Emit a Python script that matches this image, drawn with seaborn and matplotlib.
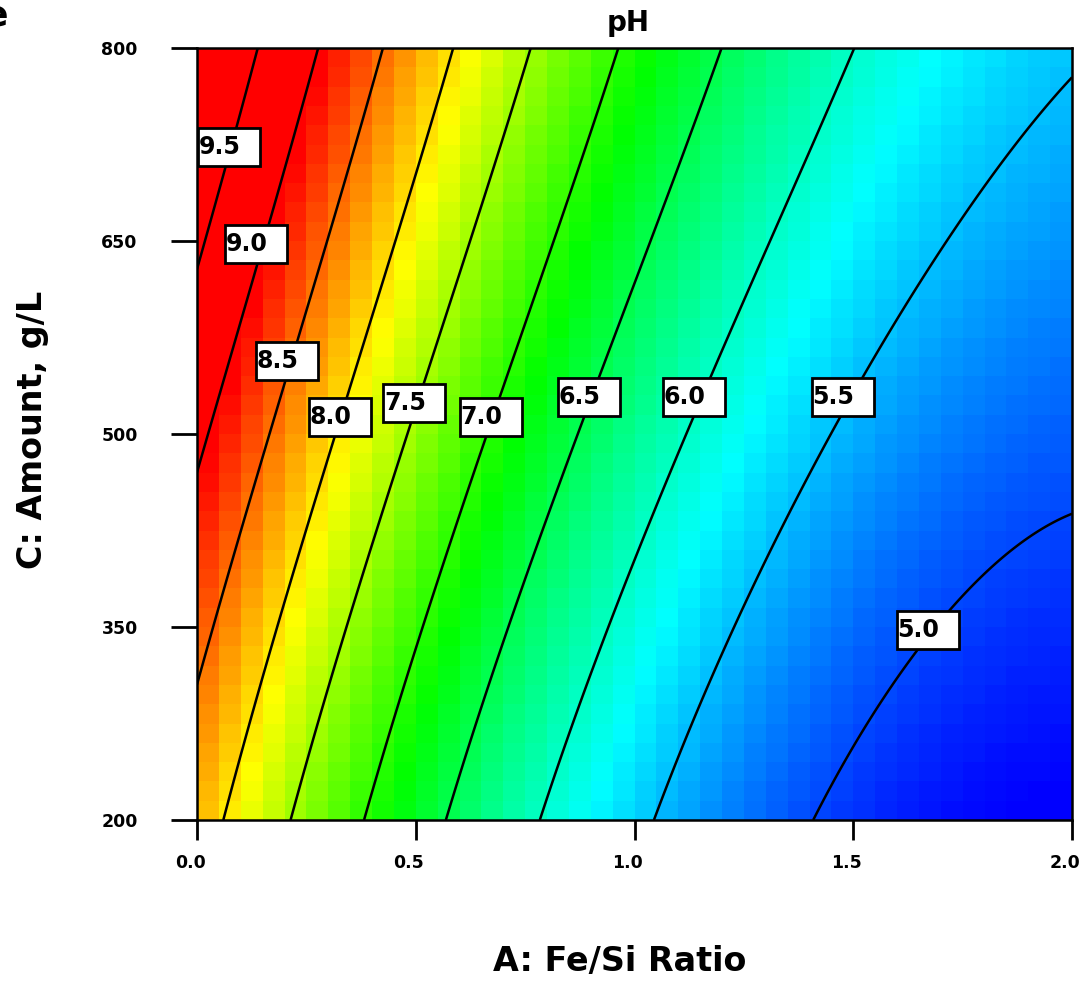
import numpy as np
import pandas as pd
import matplotlib
matplotlib.use("Agg")
import matplotlib.pyplot as plt
from matplotlib.colors import LinearSegmentedColormap
from matplotlib.patches import Rectangle
from matplotlib.transforms import Bbox, ScaledTranslation
import seaborn as sns

# Points along the pH contours: level, Fe/Si ratio (A), amount in g/L (C)
trace_level = [9.5, 9.5, 9.5, 9.5,
               9.0, 9.0, 9.0, 9.0, 9.0,
               8.5, 8.5, 8.5, 8.5, 8.5, 8.5,
               8.0, 8.0, 8.0, 8.0, 8.0, 8.0,
               7.5, 7.5, 7.5, 7.5, 7.5, 7.5,
               7.0, 7.0, 7.0, 7.0, 7.0, 7.0, 7.0,
               6.5, 6.5, 6.5, 6.5, 6.5, 6.5,
               6.0, 6.0, 6.0, 6.0, 6.0, 6.0, 6.0,
               5.5, 5.5, 5.5, 5.5, 5.5, 5.5, 5.5, 5.5,
               5.0, 5.0, 5.0, 5.0, 5.0]
trace_ratio = [0.139, 0.110, 0.074, 0.000,
               0.270, 0.219, 0.135, 0.018, 0.000,
               0.418, 0.350, 0.206, 0.162, 0.037, 0.000,
               0.590, 0.418, 0.327, 0.320, 0.149, 0.059,
               0.761, 0.608, 0.497, 0.487, 0.343, 0.217,
               0.962, 0.921, 0.807, 0.671, 0.665, 0.494, 0.379,
               1.200, 1.111, 0.896, 0.869, 0.686, 0.565,
               1.504, 1.401, 1.264, 1.100, 0.990, 0.875, 0.782,
               2.000, 1.813, 1.698, 1.623, 1.460, 1.321, 1.150, 1.040,
               2.000, 1.877, 1.671, 1.486, 1.413]
trace_amount = [800, 752, 723, 614,
                800, 713, 648, 500, 472,
                800, 713, 557, 500, 350, 306,
                800, 591, 513, 500, 301, 200,
                800, 630, 524, 500, 350, 200,
                800, 752, 641, 513, 500, 319, 200,
                800, 721, 529, 500, 332, 200,
                800, 721, 604, 500, 387, 291, 200,
                769, 708, 647, 604, 500, 410, 288, 200,
                441, 410, 348, 247, 200]

contour_levels = [5.0, 5.5, 6.0, 6.5, 7.0, 7.5, 8.0, 8.5, 9.0, 9.5]

# Where each contour value is written
label_levels = [9.5, 9.0, 8.5, 8.0, 7.5, 7.0, 6.5, 6.0, 5.5, 5.0]
label_ratio = [0.074, 0.135, 0.206, 0.327, 0.497, 0.671, 0.896, 1.137, 1.477, 1.671]
label_amount = [723, 648, 557, 513, 524, 513, 529, 529, 529, 348]

x_ticks = [0.0, 0.5, 1.0, 1.5, 2.0]
x_ticklabels = ["0.0", "0.5", "1.0", "1.5", "2.0"]
y_ticks = [200, 350, 500, 650, 800]
y_ticklabels = ["200", "350", "500", "650", "800"]

A_MIN, A_MAX = 0.0, 2.0
C_MIN, C_MAX = 200.0, 800.0
NX, NY = 40, 40


def design(A, C):
    """Full cubic terms in coded factors."""
    u = np.asarray(A, dtype=float) - 1.0
    c = (np.asarray(C, dtype=float) - 500.0) / 300.0
    return np.stack([np.ones_like(u), u, c, u * u, u * c, c * c,
                     u ** 3, u * u * c, u * c * c, c ** 3], axis=-1)


coef, *_ = np.linalg.lstsq(design(trace_ratio, trace_amount),
                           np.asarray(trace_level, dtype=float), rcond=None)


def ph(A, C):
    return design(A, C) @ coef


def to_ix(A):
    return (np.asarray(A, dtype=float) - A_MIN) / (A_MAX - A_MIN) * NX


def to_iy(C):
    return (C_MAX - np.asarray(C, dtype=float)) / (C_MAX - C_MIN) * NY


# Cell-centred response grid (top row = highest amount)
A_c = A_MIN + (np.arange(NX) + 0.5) * (A_MAX - A_MIN) / NX
C_c = C_MAX - (np.arange(NY) + 0.5) * (C_MAX - C_MIN) / NY
AA, CC = np.meshgrid(A_c, C_c)
grid = pd.DataFrame(ph(AA, CC), index=np.round(C_c, 1), columns=np.round(A_c, 3))

cmap = LinearSegmentedColormap.from_list(
    "ph_scale", ["#0000ff", "#00ffff", "#00ff00", "#ffff00", "#ff0000"])

plt.rcParams["font.family"] = ["DejaVu Sans"]
W, H = 1086, 981
fig = plt.figure(figsize=(W / 100, H / 100), dpi=100)
ax = fig.add_axes([197 / W, 1 - 820 / H, 875 / W, 772 / H])

sns.heatmap(grid, cmap=cmap, vmin=4.7, vmax=8.95, cbar=False, ax=ax,
            xticklabels=False, yticklabels=False)

# Contour lines on a finer mesh
A_f = np.linspace(A_MIN, A_MAX, 241)
C_f = np.linspace(C_MIN, C_MAX, 241)
AF, CF = np.meshgrid(A_f, C_f)
ax.contour(to_ix(AF), to_iy(CF), ph(AF, CF), levels=contour_levels,
           colors="black", linewidths=1.8)

for s in ax.spines.values():
    s.set_visible(True)
    s.set_linewidth(1.8)
    s.set_color("black")

ax.set_xticks(to_ix(x_ticks))
ax.set_xticklabels(x_ticklabels)
ax.set_yticks(to_iy(y_ticks))
ax.set_yticklabels(y_ticklabels, rotation=0)
ax.tick_params(axis="x", bottom=True, direction="out", length=14.4, width=2,
               pad=10, labelsize=12.5, colors="black")
ax.tick_params(axis="y", left=True, direction="out", length=18.7, width=2,
               pad=24, labelsize=12.5, colors="black")
for lbl in ax.get_xticklabels() + ax.get_yticklabels():
    lbl.set_fontweight("bold")
for lbl in ax.get_xticklabels():
    lbl.set_transform(lbl.get_transform()
                      + ScaledTranslation(-0.07, 0, fig.dpi_scale_trans))

# Boxed contour labels
box_w = 62 / (875 / NX)
box_h = 38 / (772 / NY)
for lev, a, c in zip(label_levels, label_ratio, label_amount):
    cx, cy = float(to_ix(a)), float(to_iy(c))
    x0, y0 = cx - box_w / 2, cy - box_h / 2
    ax.add_patch(Rectangle((x0, y0), box_w, box_h, facecolor="white",
                           edgecolor="none", zorder=5))
    t = ax.text(x0 + 0.02, cy, f"{lev:.1f}", ha="left", va="center",
                fontsize=17, fontweight="bold", color="black", zorder=6)
    p0 = ax.transData.transform((x0, y0))
    p1 = ax.transData.transform((x0 + box_w, y0 + box_h))
    t.set_clip_box(Bbox.from_extents(min(p0[0], p1[0]), min(p0[1], p1[1]),
                                     max(p0[0], p1[0]), max(p0[1], p1[1])))
    t.set_clip_on(True)
    ax.add_patch(Rectangle((x0, y0), box_w, box_h, facecolor="none",
                           edgecolor="black", linewidth=2, zorder=7))

fig.text(620 / W, 1 - 962 / H, "A: Fe/Si Ratio", ha="center", va="center",
         fontsize=24, fontweight="bold")
fig.text(33 / W, 1 - 430 / H, "C: Amount, g/L", rotation=90, ha="center",
         va="center", fontsize=24, fontweight="bold")
fig.text(628 / W, 1 - 31 / H, "pH", ha="center", va="baseline",
         fontsize=20, fontweight="bold")
fig.text(8 / W, 1 - 25 / H, "e", ha="right", va="baseline",
         fontsize=26, fontweight="bold")

fig.savefig("out.png", dpi=100, facecolor="white")
